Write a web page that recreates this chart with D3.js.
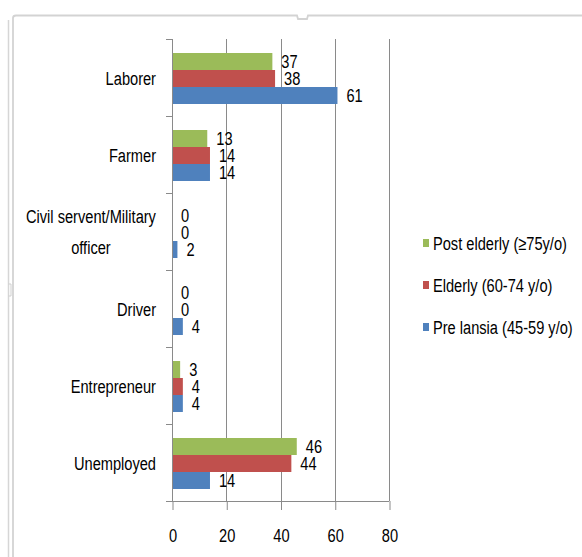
<!DOCTYPE html>
<html>
<head>
<meta charset="utf-8">
<script src="https://cdn.jsdelivr.net/npm/d3@7"></script>
<style>
  html, body { margin: 0; padding: 0; background: #fff; }
  svg { display: block; }
  text { font-family: "Liberation Sans", Arial, sans-serif; fill: #000; }
</style>
</head>
<body>
<svg id="chart" width="582" height="557"></svg>
<script>
// ---- data ----
const categories = ["Laborer", "Farmer", "Civil servent/Military officer", "Driver", "Entrepreneur", "Unemployed"];
const categoryLines = [["Laborer"], ["Farmer"], ["Civil servent/Military", "officer"], ["Driver"], ["Entrepreneur"], ["Unemployed"]];
const seriesNames = ["Post elderly (\u226575y/o)", "Elderly (60-74 y/o)", "Pre lansia (45-59 y/o)"];
const postElderly = [37, 13, 0, 0, 3, 46];
const elderly = [38, 14, 0, 0, 4, 44];
const preLansia = [61, 14, 2, 4, 4, 14];
const xTicks = [0, 20, 40, 60, 80];
const seriesColors = ["#9BBB59", "#C0504D", "#4F81BD"];

const seriesValues = [postElderly, elderly, preLansia];
const FS = 19, SX = 0.77;

const svg = d3.select("#chart");

// ---- frame ----
const frame = svg.append("g").attr("fill", "none");
frame.append("path").attr("d", "M8.5,20 L8.5,557").attr("stroke", "#d6d6d6").attr("stroke-width", 1.5);
frame.append("path").attr("d", "M13,557 L13,18 Q13,15.5 16,15.5 L297,15.5 L298,19 L307,19 L308,15.5 L582,15.5")
  .attr("stroke", "#d3d3d3").attr("stroke-width", 1.8);
frame.append("path").attr("d", "M8.5,284 L11,284 L11,296 L8.5,296").attr("stroke", "#cfcfcf").attr("stroke-width", 1);

// ---- scales ----
const x = d3.scaleLinear().domain([0, 80]).range([172, 389]);
const y = d3.scaleBand().domain(categories).range([39, 501]).paddingInner(0).paddingOuter(0);
const ySub = d3.scaleBand().domain(seriesNames).range([1, y.bandwidth() + 1]).paddingInner(0).paddingOuter(0.765);

const gridColor = "#8a8a8a";

// gridlines
svg.append("g").selectAll("line").data(xTicks.slice(1)).join("line")
  .attr("x1", d => Math.round(x(d)) + 0.5).attr("x2", d => Math.round(x(d)) + 0.5)
  .attr("y1", 39).attr("y2", 501)
  .attr("stroke", gridColor).attr("stroke-width", 1);

// ---- bars ----
const rows = [];
categories.forEach((c, i) => {
  seriesNames.forEach((s, j) => rows.push({ cat: c, series: s, j: j, value: seriesValues[j][i] }));
});

svg.append("g").selectAll("rect").data(rows).join("rect")
  .attr("x", x(0))
  .attr("y", d => y(d.cat) + ySub(d.series))
  .attr("width", d => x(d.value) - x(0))
  .attr("height", ySub.bandwidth())
  .attr("fill", d => seriesColors[d.j]);

// ---- data labels ----
svg.append("g").selectAll("text").data(rows).join("text")
  .attr("transform", d => `translate(${x(d.value) + 9},${y(d.cat) + ySub(d.series) + ySub.bandwidth() / 2 + 6.8}) scale(${SX},1)`)
  .attr("font-size", FS)
  .text(d => d.value);

// ---- x axis ----
const xAxis = d3.axisBottom(x).tickValues(xTicks).tickSize(9).tickSizeOuter(0).tickPadding(8);
const gx = svg.append("g").attr("transform", "translate(0,501)").call(xAxis);
gx.select(".domain").remove();
gx.selectAll(".tick line").attr("stroke", gridColor).attr("transform", "translate(0.5,0)");
gx.selectAll(".tick text").attr("font-size", FS).attr("font-family", null).attr("fill", "#000")
  .attr("y", null).attr("dy", null).attr("transform", `translate(0.5,41) scale(${SX},1)`);
svg.append("line").attr("x1", 166).attr("x2", 389).attr("y1", 501.5).attr("y2", 501.5).attr("stroke", gridColor);

// ---- y axis ----
svg.append("line").attr("x1", 172.5).attr("x2", 172.5).attr("y1", 39).attr("y2", 501).attr("stroke", gridColor);
const bounds = categories.map(c => y(c)).concat([y.range()[1]]);
svg.append("g").selectAll("line").data(bounds).join("line")
  .attr("x1", 166).attr("x2", 172).attr("y1", d => Math.round(d) + 0.5).attr("y2", d => Math.round(d) + 0.5)
  .attr("stroke", gridColor);

const labelRight = 156;
const catG = svg.append("g").selectAll("text").data(categories).join("text")
  .attr("font-size", FS);
catG.each(function (d, i) {
  const lines = categoryLines[i];
  const t = d3.select(this);
  const lh = 31;
  const start = -(lines.length - 1) * lh / 2;
  lines.forEach((ln, k) => {
    t.append("tspan").attr("x", 0).attr("dy", k === 0 ? start : lh).text(ln);
  });
  const cy = y(d) + y.bandwidth() / 2 + 7;
  if (lines.length > 1) {
    let maxW = 0;
    t.selectAll("tspan").each(function () { maxW = Math.max(maxW, this.getComputedTextLength()); });
    t.attr("text-anchor", "middle")
     .attr("transform", `translate(${labelRight - maxW * SX / 2},${cy}) scale(${SX},1)`);
  } else {
    t.attr("text-anchor", "end")
     .attr("transform", `translate(${labelRight},${cy}) scale(${SX},1)`);
  }
});

// ---- legend ----
const legend = svg.append("g").selectAll("g").data(seriesNames).join("g")
  .attr("transform", (d, i) => `translate(0,${243 + i * 42})`);
legend.append("rect").attr("x", 423).attr("y", -4).attr("width", 6).attr("height", 8)
  .attr("fill", (d, i) => seriesColors[i]);
legend.append("text").attr("transform", `translate(433,7) scale(${SX},1)`).attr("font-size", FS).text(d => d);
</script>
</body>
</html>
